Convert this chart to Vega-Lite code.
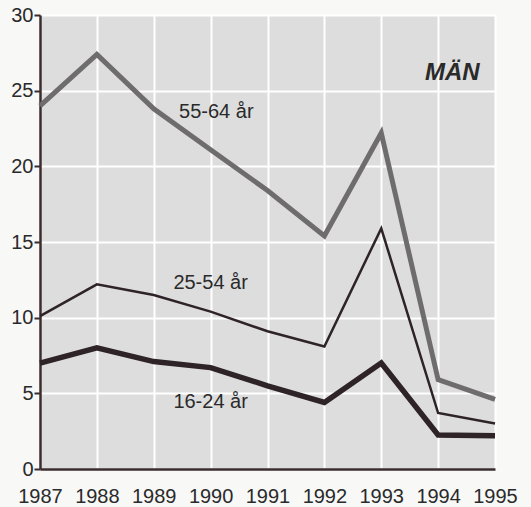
{
  "$schema": "https://vega.github.io/schema/vega-lite/v6.json",
  "width": 455,
  "height": 454,
  "autosize": "none",
  "padding": {"left": 40, "top": 15, "right": 36, "bottom": 38},
  "background": "#f8f8f7",
  "config": {
    "view": {"fill": "#dddddd", "stroke": null},
    "font": "Liberation Sans"
  },
  "datasets": {
    "lines": [
      {"year": 1987, "group": "55-64 år", "value": 24.0},
      {"year": 1988, "group": "55-64 år", "value": 27.4},
      {"year": 1989, "group": "55-64 år", "value": 23.8},
      {"year": 1990, "group": "55-64 år", "value": 21.1},
      {"year": 1991, "group": "55-64 år", "value": 18.4},
      {"year": 1992, "group": "55-64 år", "value": 15.4},
      {"year": 1993, "group": "55-64 år", "value": 22.2},
      {"year": 1994, "group": "55-64 år", "value": 5.9},
      {"year": 1995, "group": "55-64 år", "value": 4.6},
      {"year": 1987, "group": "25-54 år", "value": 10.1},
      {"year": 1988, "group": "25-54 år", "value": 12.2},
      {"year": 1989, "group": "25-54 år", "value": 11.5},
      {"year": 1990, "group": "25-54 år", "value": 10.4},
      {"year": 1991, "group": "25-54 år", "value": 9.1},
      {"year": 1992, "group": "25-54 år", "value": 8.1},
      {"year": 1993, "group": "25-54 år", "value": 15.9},
      {"year": 1994, "group": "25-54 år", "value": 3.7},
      {"year": 1995, "group": "25-54 år", "value": 3.0},
      {"year": 1987, "group": "16-24 år", "value": 7.0},
      {"year": 1988, "group": "16-24 år", "value": 8.0},
      {"year": 1989, "group": "16-24 år", "value": 7.1},
      {"year": 1990, "group": "16-24 år", "value": 6.7},
      {"year": 1991, "group": "16-24 år", "value": 5.5},
      {"year": 1992, "group": "16-24 år", "value": 4.4},
      {"year": 1993, "group": "16-24 år", "value": 7.0},
      {"year": 1994, "group": "16-24 år", "value": 2.25},
      {"year": 1995, "group": "16-24 år", "value": 2.2}
    ],
    "labels": [
      {"x": 1990.1, "y": 23.6, "text": "55-64 år"},
      {"x": 1990.0, "y": 12.3, "text": "25-54 år"},
      {"x": 1990.0, "y": 4.4, "text": "16-24 år"}
    ],
    "title": [
      {"x": 1994.25, "y": 26.2, "text": "MÄN"}
    ]
  },
  "layer": [
    {
      "data": {"name": "lines"},
      "transform": [{"filter": "datum.group === '55-64 år'"}],
      "mark": {"type": "line", "strokeJoin": "miter", "strokeCap": "butt", "color": "#6e6c6d", "strokeWidth": 5},
      "encoding": {
        "x": {
          "field": "year", "type": "quantitative",
          "scale": {"domain": [1987, 1995], "nice": false, "zero": false},
          "axis": {
            "title": null, "values": [1987,1988,1989,1990,1991,1992,1993,1994,1995],
            "format": "d", "labelFontSize": 20, "labelColor": "#2a2a2a",
            "labelPadding": 17, "ticks": false,
            "domainColor": "#3a2c2f", "domainWidth": 2.5,
            "grid": true, "gridColor": "#ffffff", "gridWidth": 2,
            "labelFlush": false
          }
        },
        "y": {
          "field": "value", "type": "quantitative",
          "scale": {"domain": [0, 30], "nice": false},
          "axis": {
            "title": null, "values": [0,5,10,15,20,25,30],
            "labelFontSize": 20, "labelColor": "#2a2a2a",
            "labelPadding": 1, "tickSize": 6, "tickColor": "#3a2c2f", "tickWidth": 2,
            "domainColor": "#3a2c2f", "domainWidth": 2.5,
            "grid": true, "gridColor": "#ffffff", "gridWidth": 2
          }
        }
      }
    },
    {
      "data": {"name": "lines"},
      "transform": [{"filter": "datum.group === '25-54 år'"}],
      "mark": {"type": "line", "strokeJoin": "miter", "strokeCap": "butt", "color": "#2e2326", "strokeWidth": 2.5},
      "encoding": {
        "x": {"field": "year", "type": "quantitative"},
        "y": {"field": "value", "type": "quantitative"}
      }
    },
    {
      "data": {"name": "lines"},
      "transform": [{"filter": "datum.group === '16-24 år'"}],
      "mark": {"type": "line", "strokeJoin": "miter", "strokeCap": "butt", "color": "#2e2326", "strokeWidth": 5.5},
      "encoding": {
        "x": {"field": "year", "type": "quantitative"},
        "y": {"field": "value", "type": "quantitative"}
      }
    },
    {
      "data": {"name": "labels"},
      "mark": {"type": "text", "fontSize": 20, "color": "#2a2a2a", "align": "center", "baseline": "middle"},
      "encoding": {
        "x": {"field": "x", "type": "quantitative"},
        "y": {"field": "y", "type": "quantitative"},
        "text": {"field": "text"}
      }
    },
    {
      "data": {"name": "title"},
      "mark": {"type": "text", "fontSize": 24, "fontWeight": "bold", "fontStyle": "italic", "color": "#2a2a2a", "align": "center", "baseline": "middle"},
      "encoding": {
        "x": {"field": "x", "type": "quantitative"},
        "y": {"field": "y", "type": "quantitative"},
        "text": {"field": "text"}
      }
    }
  ]
}
